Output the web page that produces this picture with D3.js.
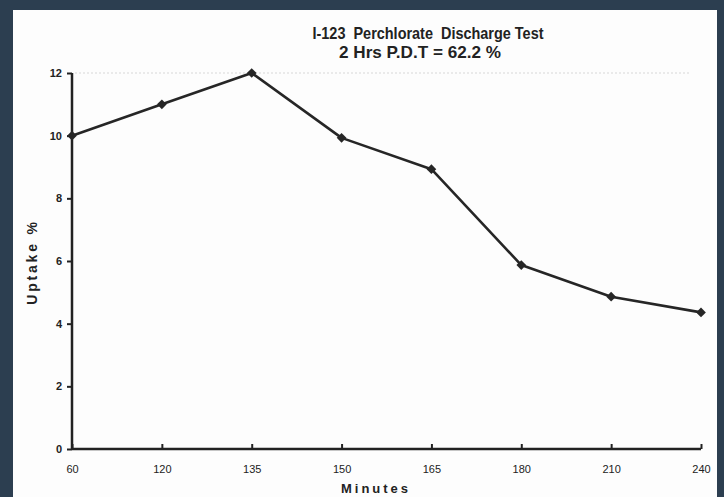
<!DOCTYPE html>
<html><head><meta charset="utf-8">
<script src="https://cdn.jsdelivr.net/npm/d3@7"></script>
<style>
html,body{margin:0;padding:0;background:#2c3e50;}
svg{display:block;}
</style></head>
<body>
<script>
const categories = ["60","120","135","150","165","180","210","240"];
const uptake = [10, 11, 12, 9.93, 8.93, 5.87, 4.86, 4.36];
const yTicks = [0, 2, 4, 6, 8, 10, 12];
const titleLines = ["I-123  Perchlorate  Discharge Test", "2 Hrs P.D.T = 62.2 %"];
const xTitle = "Minutes";
const yTitle = "Uptake %";

const W = 724, H = 497;
const svg = d3.select("body").append("svg").attr("width", W).attr("height", H);
svg.append("rect").attr("width", W).attr("height", H).attr("fill", "#2c3e50");
svg.append("rect").attr("x", 13).attr("y", 10).attr("width", 704).attr("height", 500).attr("fill", "#fdfdfd");

const m = {left: 72, right: 701, top: 73, bottom: 449};
const x = d3.scalePoint().domain(categories).range([m.left, m.right]);
const y = d3.scaleLinear().domain([0, 12]).range([m.bottom, m.top]);
const font = "'Liberation Sans Narrow','Liberation Sans',Arial,sans-serif";

// faint dotted gridline at top
svg.append("line").attr("x1", m.left + 3).attr("x2", m.right - 10)
  .attr("y1", y(12)).attr("y2", y(12))
  .attr("stroke", "#d8d8d8").attr("stroke-width", 1.2).attr("stroke-dasharray", "2,2");

// Y axis
const yAxis = svg.append("g").attr("transform", `translate(${m.left},0)`)
  .call(d3.axisLeft(y).tickValues(yTicks).tickSize(5).tickPadding(5).tickFormat(d3.format("d")));
yAxis.select(".domain").attr("stroke", "#222").attr("stroke-width", 2.5).attr("d", `M0,${m.top}V${m.bottom}`);
yAxis.selectAll(".tick line").attr("stroke", "#222").attr("stroke-width", 2);
yAxis.selectAll(".tick text").attr("font-family", font).attr("font-size", 11).attr("font-weight", "bold").attr("fill", "#222");

// X axis
const xAxis = svg.append("g").attr("transform", `translate(0,${m.bottom})`)
  .call(d3.axisBottom(x).tickSize(-5).tickPadding(16));
xAxis.select(".domain").attr("stroke", "#222").attr("stroke-width", 2.5).attr("d", `M${m.left},0H${m.right}`);
xAxis.selectAll(".tick line").attr("stroke", "#222").attr("stroke-width", 2);
xAxis.selectAll(".tick text").attr("font-family", font).attr("font-size", 11).attr("fill", "#222");

// line
const pts = categories.map((c, i) => ({c, v: uptake[i]}));
svg.append("path").datum(pts)
  .attr("fill", "none").attr("stroke", "#262626").attr("stroke-width", 2.6).attr("stroke-linejoin", "round")
  .attr("d", d3.line().x(d => x(d.c)).y(d => y(d.v)));
svg.selectAll(".mk").data(pts).join("path").attr("class", "mk")
  .attr("transform", d => `translate(${x(d.c)},${y(d.v)})`)
  .attr("d", d3.symbol(d3.symbolDiamond2, 60))
  .attr("fill", "#262626");

// titles
svg.append("text").attr("x", 428).attr("y", 39).attr("text-anchor", "middle")
  .attr("font-family", font).attr("font-size", 16.5).attr("font-weight", "bold").attr("fill", "#222")
  .attr("textLength", 231).attr("lengthAdjust", "spacingAndGlyphs").style("white-space", "pre")
  .text(titleLines[0]);
svg.append("text").attr("x", 420).attr("y", 58).attr("text-anchor", "middle")
  .attr("font-family", font).attr("font-size", 16.5).attr("font-weight", "bold").attr("fill", "#222")
  .attr("textLength", 162).attr("lengthAdjust", "spacingAndGlyphs")
  .text(titleLines[1]);

// axis titles
svg.append("text").attr("x", 376).attr("y", 493).attr("text-anchor", "middle")
  .attr("font-family", "'Liberation Sans',Arial,sans-serif").attr("font-size", 13).attr("font-weight", "bold")
  .attr("letter-spacing", 3).attr("fill", "#222").text(xTitle);
svg.append("text").attr("transform", "translate(37,262) rotate(-90)").attr("text-anchor", "middle")
  .attr("font-family", "'Liberation Sans',Arial,sans-serif").attr("font-size", 14).attr("font-weight", "bold")
  .attr("letter-spacing", 2.8).attr("fill", "#222").text(yTitle);
</script>
</body></html>
